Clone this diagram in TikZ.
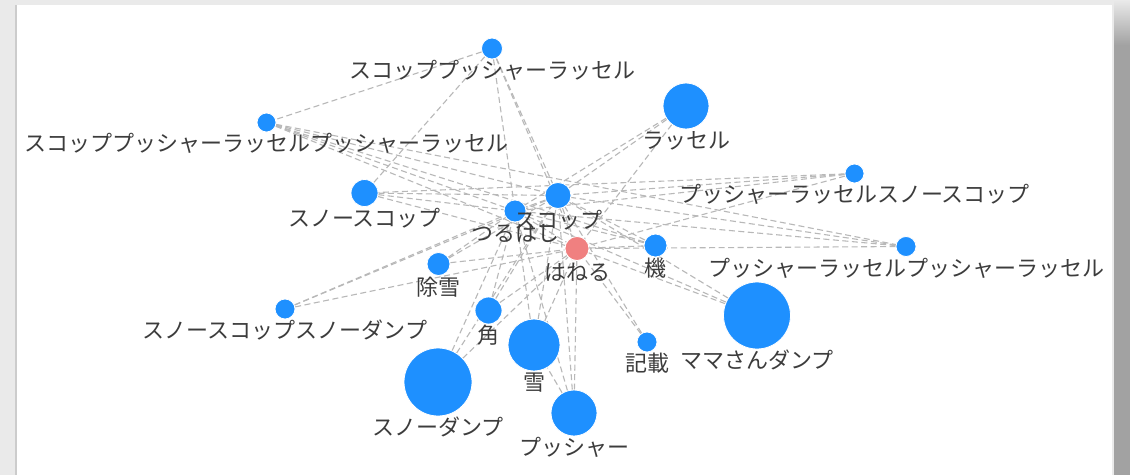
\documentclass[tikz,border=0pt]{standalone}
\usepackage{fontspec}
\setmainfont{Noto Sans CJK JP}
\usepackage{tikz}
\usetikzlibrary{positioning,backgrounds}
\definecolor{dotblue}{HTML}{1E90FF}
\definecolor{dotred}{HTML}{F08080}
\definecolor{linkgray}{HTML}{B8B8B8}
\definecolor{textgray}{HTML}{3C3C3C}
\definecolor{framegray}{HTML}{EAEAEA}
\definecolor{shadegray}{HTML}{A2A2A2}

\begin{document}
\begin{tikzpicture}[x=1pt,y=-1pt,
  word/.style={circle,fill=dotblue,draw=white,line width=0.8pt,inner sep=0pt,minimum size=#1},
  hub/.style={word=#1,fill=dotred},
  lbl/.style={text=textgray,inner sep=0pt,text height=18pt,text depth=2pt,font=\fontsize{22}{26}\selectfont},
  link/.style={linkgray,dash pattern=on 6pt off 3.5pt,line width=1.1pt}]
\useasboundingbox (0,0) rectangle (1130,475);

%%%%%%%%%%%%%%%%%%Draw The Word Nodes%%%%%%%%%%%%%%%%%%
\node[word=21pt] (spr) at (492,48.5) {};
\node[word=19pt] (sprpr) at (266.5,122.5) {};
\node[word=46pt] (rs) at (686,106) {};
\node[word=19pt] (prss) at (854.5,173.5) {};
\node[word=27pt] (ss) at (364.5,193) {};
\node[word=26pt] (sc) at (558,195.5) {};
\node[word=22pt] (tr) at (515,211) {};
\node[hub=24pt] (hn) at (577,248.5) {};
\node[word=23pt] (ki) at (655.5,245.5) {};
\node[word=20pt] (prpr) at (906,246.5) {};
\node[word=23pt] (js) at (438.5,264) {};
\node[word=20pt] (sssd) at (285,309) {};
\node[word=27pt] (kk) at (488.5,310.5) {};
\node[word=67pt] (mm) at (757,315.5) {};
\node[word=20pt] (ks) at (647,342) {};
\node[word=52pt] (yk) at (534,345) {};
\node[word=68pt] (sd) at (438,382) {};
\node[word=46pt] (ps) at (574,413) {};

%%%%%%%%%%%%%%%%%%Draw The Word Labels%%%%%%%%%%%%%%%%%
\node[lbl, below=1pt of spr] (spr-l) {スコッププッシャーラッセル};
\node[lbl, below=1pt of sprpr] (sprpr-l) {スコッププッシャーラッセルプッシャーラッセル};
\node[lbl, below=1pt of rs] (rs-l) {ラッセル};
\node[lbl, below=1pt of prss] (prss-l) {プッシャーラッセルスノースコップ};
\node[lbl, below=1pt of ss] (ss-l) {スノースコップ};
\node[lbl, below=1pt of sc] (sc-l) {スコップ};
\node[lbl, below=1pt of tr] (tr-l) {つるはし};
\node[lbl, below=1pt of hn] (hn-l) {はねる};
\node[lbl, below=1pt of ki] (ki-l) {機};
\node[lbl, below=1pt of prpr] (prpr-l) {プッシャーラッセルプッシャーラッセル};
\node[lbl, below=1pt of js] (js-l) {除雪};
\node[lbl, below=1pt of sssd] (sssd-l) {スノースコップスノーダンプ};
\node[lbl, below=1pt of kk] (kk-l) {角};
\node[lbl, below=1pt of mm] (mm-l) {ママさんダンプ};
\node[lbl, below=1pt of ks] (ks-l) {記載};
\node[lbl, below=1pt of yk] (yk-l) {雪};
\node[lbl, below=1pt of sd] (sd-l) {スノーダンプ};
\node[lbl, below=1pt of ps] (ps-l) {プッシャー};

\begin{pgfonlayer}{background}
%%%%%%%%%%%%%%%%%%Draw The Panel%%%%%%%%%%%%%%%%%%%%%%%%
\fill[framegray] (0,0) rectangle (1130,475);
\draw[gray!40, line width=1.5pt] (16,5) -- (16,475);
\fill[white] (17,5) rectangle (1112,475);
\fill[shadegray] (1114,0) rectangle (1130,475);
\shade[top color=framegray, bottom color=shadegray] (1114,0) rectangle (1130,45);

%%%%%%%%%%%%%%%%%%Draw The Links%%%%%%%%%%%%%%%%%%%%%%%%
\foreach \a/\b in {spr/sprpr, spr/ss, spr/tr, spr/sc, spr/hn,
  sprpr/sc, sprpr/tr, sprpr/hn, sprpr/ki, sprpr/prpr,
  rs/sc, rs/tr, rs/hn, prss/sc, prss/tr, prss/hn, prss/ss,
  prpr/sc, prpr/tr, prpr/hn, ss/sc, ss/tr, ss/hn,
  sc/tr, sc/hn, tr/hn, ki/sc, ki/tr, ki/hn,
  js/sc, js/tr, js/hn, sssd/sc, sssd/tr, sssd/hn,
  kk/sc, kk/tr, kk/hn, yk/sc, yk/tr, yk/hn,
  sd/sc, sd/tr, sd/hn, ps/sc, ps/tr, ps/hn, ps/yk,
  mm/sc, mm/tr, mm/hn, ks/sc, ks/hn}
  \draw[link] (\a) -- (\b);
\end{pgfonlayer}
\end{tikzpicture}
\end{document}
